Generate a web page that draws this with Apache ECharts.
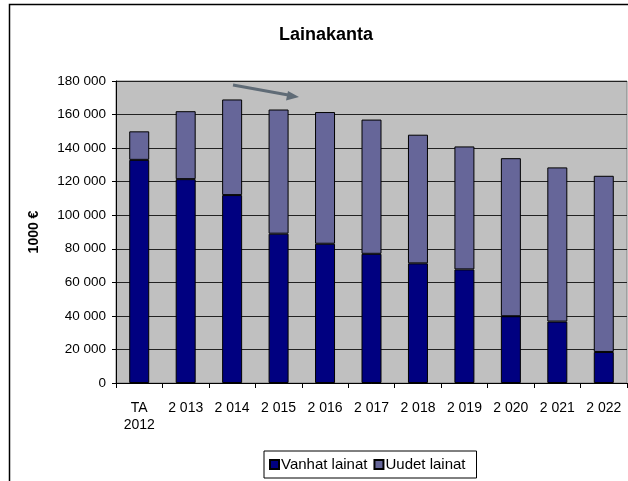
<!DOCTYPE html>
<html>
<head>
<meta charset="utf-8">
<script src="https://cdn.jsdelivr.net/npm/echarts@6/dist/echarts.min.js"></script>
<style>
  html, body { margin: 0; padding: 0; background: #fff; }
  #main { width: 628px; height: 481px; }
</style>
</head>
<body>
<div id="main"></div>
<script>
  // vuodet ja lainakanta (1000 €)
  var years = ['TA\n2012', '2 013', '2 014', '2 015', '2 016', '2 017', '2 018', '2 019', '2 020', '2 021', '2 022'];
  var totals = [150000, 162000, 169000, 163000, 161500, 157000, 148000, 141000, 134000, 128500, 123500];
  var vanhat = [133000, 121500, 112000, 89000, 83000, 77000, 71300, 67700, 39800, 36600, 18500];
  var uudet = totals.map(function (t, i) { return t - vanhat[i]; });
  var yTicks = [0, 20000, 40000, 60000, 80000, 100000, 120000, 140000, 160000, 180000];

  var font = 'Liberation Sans, Arial, sans-serif';
  var chart = echarts.init(document.getElementById('main'));

  function fmt(v) {
    return String(v).replace(/\B(?=(\d{3})+(?!\d))/g, ' ');
  }

  var option = {
    animation: false,
    backgroundColor: '#fff',
    title: {
      text: 'Lainakanta',
      left: 274,
      top: 21,
      textStyle: { fontFamily: font, fontSize: 18, fontWeight: 'bold', color: '#000' }
    },
    legend: {
      left: 264,
      top: 451,
      itemWidth: 9,
      itemHeight: 9,
      itemGap: 6,
      icon: 'rect',
      padding: [6, 11, 6, 5],
      borderColor: '#000',
      borderWidth: 1,
      textStyle: { fontFamily: font, fontSize: 15, color: '#000', padding: [0, 0, 0, -3] },
      data: ['Vanhat lainat', 'Uudet lainat']
    },
    grid: {
      left: 116, right: 1, top: 81, bottom: 98,
      show: true,
      backgroundColor: '#c0c0c0',
      borderColor: '#808080',
      borderWidth: 1
    },
    xAxis: {
      type: 'category',
      data: years,
      axisLine: { lineStyle: { color: '#000' } },
      axisTick: { show: true, length: 5, lineStyle: { color: '#000' } },
      axisLabel: { fontFamily: font, fontSize: 14, color: '#000', interval: 0, margin: 17, lineHeight: 17 },
      splitLine: { show: false }
    },
    yAxis: {
      type: 'value',
      min: 0,
      max: 180000,
      interval: 20000,
      name: '1000 €',
      nameLocation: 'middle',
      nameGap: 75,
      nameRotate: 90,
      nameTextStyle: { fontFamily: font, fontSize: 14, fontWeight: 'bold', color: '#000' },
      axisLine: { show: true, lineStyle: { color: '#000' } },
      axisTick: { show: true, length: 4, lineStyle: { color: '#000' } },
      axisLabel: {
        fontFamily: font, fontSize: 13.5, color: '#000', margin: 10,
        formatter: function (v) { return yTicks.indexOf(v) >= 0 ? fmt(v) : ''; }
      },
      splitLine: { show: true, lineStyle: { color: '#222', width: 1 } }
    },
    series: [
      {
        name: 'Vanhat lainat',
        type: 'bar',
        stack: 'laina',
        barWidth: 20,
        data: vanhat,
        itemStyle: { color: '#000080', borderColor: '#000', borderWidth: 1 }
      },
      {
        name: 'Uudet lainat',
        type: 'bar',
        stack: 'laina',
        barWidth: 20,
        data: uudet,
        itemStyle: { color: '#666699', borderColor: '#000', borderWidth: 1 }
      }
    ],
    graphic: [
      {
        type: 'rect',
        shape: { x: 9.5, y: 4.5, width: 700, height: 600 },
        style: { fill: 'none', stroke: '#000', lineWidth: 1.5 },
        silent: true
      },
      {
        type: 'line',
        shape: { x1: 233, y1: 85, x2: 291, y2: 95.5 },
        style: { stroke: '#5f6b76', lineWidth: 3 },
        z: 100
      },
      {
        type: 'polygon',
        shape: { points: [[299, 97], [288, 91], [286, 100.5]] },
        style: { fill: '#5f6b76' },
        z: 100
      }
    ]
  };

  chart.setOption(option);
</script>
</body>
</html>
